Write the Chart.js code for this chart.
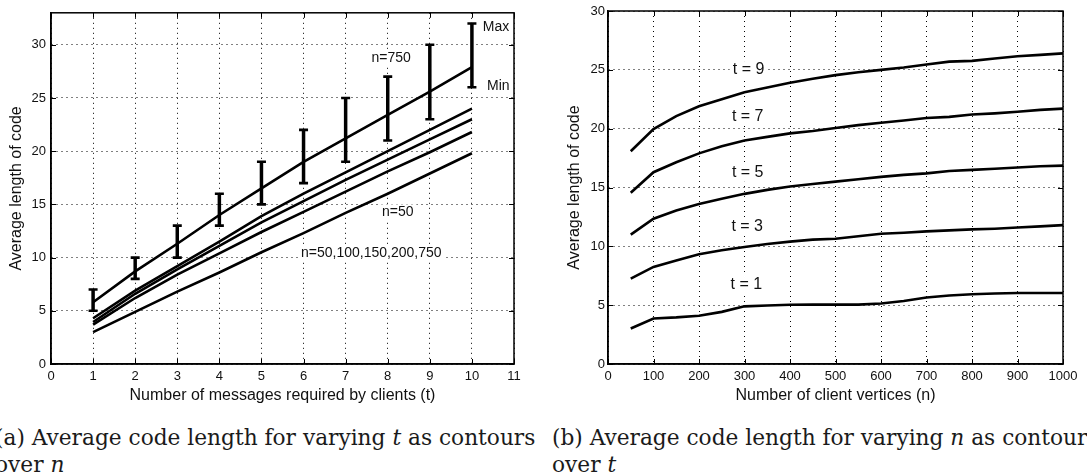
<!DOCTYPE html>
<html>
<head>
<meta charset="utf-8">
<script src="https://cdn.jsdelivr.net/npm/chart.js@4/dist/chart.umd.min.js"></script>
<style>
  body { margin: 0; background: #fff; width: 1087px; height: 475px; overflow: hidden; position: relative; }
  canvas { position: absolute; top: 0; }
  #chartA { left: 0; }
  #chartB { left: 545px; }
  .caption { position: absolute; font-family: "DejaVu Serif", serif; font-size: 21.7px; line-height: 27px; color: #1a1a1a; white-space: nowrap; }
  .caption i { font-style: italic; }
</style>
</head>
<body>
<canvas id="chartA" width="540" height="410"></canvas>
<canvas id="chartB" width="542" height="410"></canvas>
<div class="caption" style="left:-5px; top:424px;">(a) Average code length for varying <i>t</i> as contours<br>over <i>n</i></div>
<div class="caption" style="left:552px; top:424px;">(b) Average code length for varying <i>n</i> as contours<br>over <i>t</i></div>

<script>
// Left plot: code length vs t, one line per n
const tValues = [1, 2, 3, 4, 5, 6, 7, 8, 9, 10];
const n50 = [3.0, 4.9, 6.8, 8.6, 10.5, 12.3, 14.2, 16.0, 17.9, 19.8];
const n100 = [3.7, 6.2, 8.4, 10.4, 12.4, 14.3, 16.2, 18.1, 19.9, 21.8];
const n150 = [3.95, 6.6, 8.9, 11.1, 13.3, 15.3, 17.3, 19.2, 21.1, 23.0];
const n200 = [4.3, 6.9, 9.2, 11.5, 13.9, 16.0, 18.0, 20.0, 22.0, 24.0];
const n750 = [5.8, 8.7, 11.3, 14.0, 16.5, 19.0, 21.2, 23.4, 25.6, 27.9];
const n750Min = [5, 8, 10, 13, 15, 17, 19, 21, 23, 26];
const n750Max = [7, 10, 13, 16, 19, 22, 25, 27, 30, 32];
const xTicksA = [0, 1, 2, 3, 4, 5, 6, 7, 8, 9, 10, 11];
const yTicksA = [0, 5, 10, 15, 20, 25, 30];

// Right plot: code length vs n, one line per t
const nValues = [50, 100, 150, 200, 250, 300, 350, 400, 450, 500, 550, 600, 650, 700, 750, 800, 850, 900, 950, 1000];
const t1 = [3.02, 3.87, 3.96, 4.1, 4.43, 4.9, 4.97, 5.03, 5.05, 5.05, 5.05, 5.14, 5.36, 5.65, 5.82, 5.93, 5.99, 6.04, 6.04, 6.04];
const t3 = [7.26, 8.25, 8.8, 9.32, 9.66, 9.94, 10.2, 10.4, 10.57, 10.65, 10.85, 11.07, 11.16, 11.27, 11.36, 11.44, 11.5, 11.6, 11.7, 11.8];
const t5 = [11.0, 12.35, 13.05, 13.6, 14.04, 14.46, 14.8, 15.08, 15.3, 15.5, 15.7, 15.9, 16.07, 16.2, 16.4, 16.5, 16.6, 16.7, 16.8, 16.86];
const t7 = [14.55, 16.3, 17.15, 17.9, 18.5, 19.0, 19.3, 19.6, 19.8, 20.06, 20.3, 20.5, 20.7, 20.9, 21.0, 21.2, 21.3, 21.44, 21.6, 21.7];
const t9 = [18.08, 19.97, 21.07, 21.9, 22.5, 23.1, 23.5, 23.9, 24.24, 24.55, 24.8, 25.0, 25.2, 25.45, 25.7, 25.76, 25.96, 26.16, 26.27, 26.4];
const xTicksB = [0, 100, 200, 300, 400, 500, 600, 700, 800, 900, 1000];
const yTicksB = [0, 5, 10, 15, 20, 25, 30];

// Text labels placed in data coordinates
const labelsA = [
  { text: "Max", x: 10.26, y: 31.65, align: "left", bg: false },
  { text: "Min", x: 10.36, y: 26.07, align: "left", bg: false },
  { text: "n=750", x: 8.08, y: 28.73, align: "center", bg: true },
  { text: "n=50", x: 8.24, y: 14.24, align: "center", bg: true },
  { text: "n=50,100,150,200,750", x: 7.61, y: 10.43, align: "center", bg: true }
];
const labelsB = [
  { text: "t = 9", x: 309, y: 24.98, align: "center", bg: true },
  { text: "t = 7", x: 307, y: 21.0, align: "center", bg: true },
  { text: "t = 5", x: 307, y: 16.25, align: "center", bg: true },
  { text: "t = 3", x: 306, y: 11.66, align: "center", bg: true },
  { text: "t = 1", x: 304, y: 6.77, align: "center", bg: true }
];

const FONT = "'Liberation Sans', Arial, Helvetica, sans-serif";

function toPoints(xs, ys) {
  return xs.map((x, i) => ({ x: x, y: ys[i] }));
}

function lineDataset(label, xs, ys) {
  return {
    label: label,
    data: toPoints(xs, ys),
    borderColor: "#000",
    borderWidth: 2.6,
    pointRadius: 0,
    tension: 0,
    fill: false
  };
}

// Box around the axes with short inward tick marks on every side
const framePlugin = {
  id: "frame",
  afterDraw(chart) {
    const { ctx, chartArea: a, scales } = chart;
    ctx.save();
    ctx.strokeStyle = "#000";
    ctx.lineWidth = 1.5;
    ctx.strokeRect(a.left, a.top, a.right - a.left, a.bottom - a.top);
    ctx.lineWidth = 1;
    ctx.beginPath();
    scales.x.ticks.forEach(t => {
      const px = Math.round(scales.x.getPixelForValue(t.value)) + 0.5;
      ctx.moveTo(px, a.bottom); ctx.lineTo(px, a.bottom - 5);
      ctx.moveTo(px, a.top); ctx.lineTo(px, a.top + 5);
    });
    scales.y.ticks.forEach(t => {
      const py = Math.round(scales.y.getPixelForValue(t.value)) + 0.5;
      ctx.moveTo(a.left, py); ctx.lineTo(a.left + 5, py);
      ctx.moveTo(a.right, py); ctx.lineTo(a.right - 5, py);
    });
    ctx.stroke();
    ctx.restore();
  }
};

// Text annotations, with a white box so grid dots don't run through them
const labelPlugin = {
  id: "plotLabels",
  afterDatasetsDraw(chart, args, opts) {
    const { ctx, scales } = chart;
    ctx.save();
    ctx.font = opts.size + "px " + FONT;
    ctx.textBaseline = "middle";
    (opts.items || []).forEach(item => {
      const px = scales.x.getPixelForValue(item.x);
      const py = scales.y.getPixelForValue(item.y);
      const w = ctx.measureText(item.text).width;
      const left = item.align === "center" ? px - w / 2 : px;
      if (item.bg) {
        ctx.fillStyle = "#fff";
        ctx.fillRect(left - 3, py - opts.size / 2 - 1, w + 6, opts.size + 2);
      }
      ctx.fillStyle = "#111";
      ctx.textAlign = "left";
      ctx.fillText(item.text, left, py);
    });
    ctx.restore();
  }
};

// Min/max range bars for the n=750 line
const errorBarPlugin = {
  id: "rangeBars",
  afterDatasetsDraw(chart, args, opts) {
    if (!opts.lo) return;
    const { ctx, scales } = chart;
    ctx.save();
    ctx.strokeStyle = "#000";
    opts.x.forEach((xv, i) => {
      const px = scales.x.getPixelForValue(xv);
      const yLo = scales.y.getPixelForValue(opts.lo[i]);
      const yHi = scales.y.getPixelForValue(opts.hi[i]);
      ctx.lineWidth = 3.5;
      ctx.beginPath();
      ctx.moveTo(px, yLo); ctx.lineTo(px, yHi);
      ctx.stroke();
      ctx.lineWidth = 2.6;
      ctx.beginPath();
      ctx.moveTo(px - 4.5, yLo); ctx.lineTo(px + 4.5, yLo);
      ctx.moveTo(px - 4.5, yHi); ctx.lineTo(px + 4.5, yHi);
      ctx.stroke();
    });
    ctx.restore();
  }
};

function axis(opts) {
  return {
    type: "linear",
    min: opts.min,
    max: opts.max,
    afterBuildTicks: scale => { scale.ticks = opts.ticks.map(v => ({ value: v })); },
    afterFit: scale => {
      if (opts.width !== undefined) scale.width = opts.width;
      if (opts.height !== undefined) scale.height = opts.height;
    },
    grid: { color: "#000", lineWidth: 1, drawTicks: false },
    border: { display: true, color: "#000", width: 1.5, dash: [1, 4] },
    ticks: {
      color: "#111",
      font: { family: FONT, size: 13 },
      padding: opts.tickPad,
      maxRotation: 0,
      autoSkip: false,
      callback: v => String(v)
    },
    title: {
      display: true,
      text: opts.title,
      color: "#111",
      font: { family: FONT, size: 16 },
      padding: opts.titlePad
    }
  };
}

function makeChart(id, cfg) {
  return new Chart(document.getElementById(id), {
    type: "line",
    data: { datasets: cfg.datasets },
    options: {
      responsive: false,
      animation: false,
      layout: { padding: cfg.padding },
      plugins: {
        legend: { display: false },
        tooltip: { enabled: false },
        plotLabels: { items: cfg.labels, size: cfg.labelSize },
        rangeBars: cfg.bars || {}
      },
      scales: { x: cfg.x, y: cfg.y }
    },
    plugins: [framePlugin, labelPlugin, errorBarPlugin]
  });
}

makeChart("chartA", {
  datasets: [
    lineDataset("n=50", tValues, n50),
    lineDataset("n=100", tValues, n100),
    lineDataset("n=150", tValues, n150),
    lineDataset("n=200", tValues, n200),
    lineDataset("n=750", tValues, n750)
  ],
  padding: { left: 0, top: 4, right: 26, bottom: 0 },
  x: axis({ min: 0, max: 11, ticks: xTicksA, height: 46, tickPad: 5,
            title: "Number of messages required by clients (t)", titlePad: { top: 0, bottom: 5 } }),
  y: axis({ min: 0, max: 33, ticks: yTicksA, width: 51, tickPad: 5,
            title: "Average length of code", titlePad: { top: 7, bottom: 0 } }),
  labels: labelsA,
  labelSize: 14,
  bars: { x: tValues, lo: n750Min, hi: n750Max }
});

makeChart("chartB", {
  datasets: [
    lineDataset("t = 1", nValues, t1),
    lineDataset("t = 3", nValues, t3),
    lineDataset("t = 5", nValues, t5),
    lineDataset("t = 7", nValues, t7),
    lineDataset("t = 9", nValues, t9)
  ],
  padding: { left: 0, top: 11, right: 24, bottom: 0 },
  x: axis({ min: 0, max: 1000, ticks: xTicksB, height: 46, tickPad: 5,
            title: "Number of client vertices (n)", titlePad: { top: 0, bottom: 5 } }),
  y: axis({ min: 0, max: 30, ticks: yTicksB, width: 63, tickPad: 3,
            title: "Average length of code", titlePad: { top: 20, bottom: 0 } }),
  labels: labelsB,
  labelSize: 16
});
</script>
</body>
</html>
